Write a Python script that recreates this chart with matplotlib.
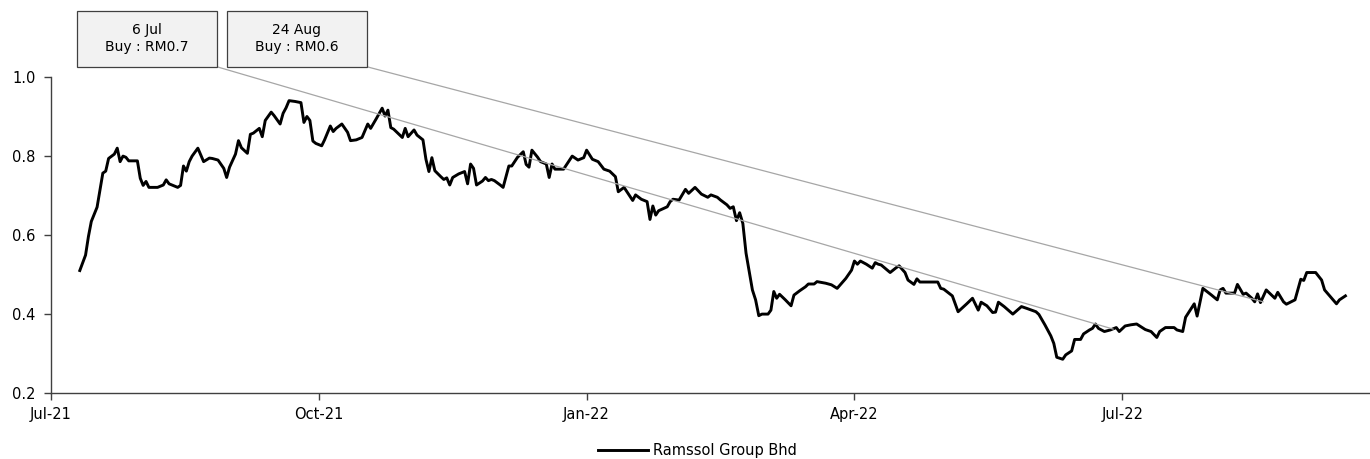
import matplotlib
matplotlib.use('Agg')
import matplotlib.pyplot as plt
import pandas as pd
import numpy as np
from matplotlib.patches import Rectangle, ConnectionPatch

series_name = 'Ramssol Group Bhd'

dates = [
    '2021-07-11', '2021-07-13', '2021-07-14', '2021-07-15', '2021-07-17', '2021-07-18', '2021-07-19', '2021-07-20',
    '2021-07-21', '2021-07-23', '2021-07-24', '2021-07-25', '2021-07-26', '2021-07-27', '2021-07-28', '2021-07-31',
    '2021-08-01', '2021-08-02', '2021-08-03', '2021-08-04', '2021-08-07', '2021-08-09', '2021-08-10', '2021-08-11',
    '2021-08-14', '2021-08-15', '2021-08-16', '2021-08-17', '2021-08-18', '2021-08-19', '2021-08-21', '2021-08-23',
    '2021-08-25', '2021-08-26', '2021-08-28', '2021-08-30', '2021-08-31', '2021-09-01', '2021-09-03', '2021-09-04',
    '2021-09-05', '2021-09-07', '2021-09-08', '2021-09-09', '2021-09-11', '2021-09-12', '2021-09-13', '2021-09-15',
    '2021-09-16', '2021-09-18', '2021-09-19', '2021-09-20', '2021-09-21', '2021-09-23', '2021-09-25', '2021-09-26',
    '2021-09-27', '2021-09-28', '2021-09-29', '2021-09-30', '2021-10-02', '2021-10-03', '2021-10-05', '2021-10-06',
    '2021-10-07', '2021-10-09', '2021-10-11', '2021-10-12', '2021-10-14', '2021-10-16', '2021-10-18', '2021-10-19',
    '2021-10-21', '2021-10-23', '2021-10-24', '2021-10-25', '2021-10-26', '2021-10-27', '2021-10-30', '2021-10-31',
    '2021-11-01', '2021-11-03', '2021-11-04', '2021-11-06', '2021-11-07', '2021-11-08', '2021-11-09', '2021-11-10',
    '2021-11-12', '2021-11-13', '2021-11-14', '2021-11-15', '2021-11-16', '2021-11-18', '2021-11-20', '2021-11-21',
    '2021-11-22', '2021-11-23', '2021-11-24', '2021-11-26', '2021-11-27', '2021-11-28', '2021-11-29', '2021-11-30',
    '2021-12-02', '2021-12-03', '2021-12-05', '2021-12-06', '2021-12-08', '2021-12-10', '2021-12-11', '2021-12-12',
    '2021-12-13', '2021-12-15', '2021-12-16', '2021-12-18', '2021-12-19', '2021-12-20', '2021-12-21', '2021-12-24',
    '2021-12-27', '2021-12-29', '2021-12-31', '2022-01-01', '2022-01-03', '2022-01-05', '2022-01-07', '2022-01-09',
    '2022-01-11', '2022-01-12', '2022-01-14', '2022-01-17', '2022-01-18', '2022-01-20', '2022-01-22', '2022-01-23',
    '2022-01-24', '2022-01-25', '2022-01-26', '2022-01-29', '2022-01-30', '2022-01-31', '2022-02-02', '2022-02-04',
    '2022-02-05', '2022-02-07', '2022-02-09', '2022-02-11', '2022-02-12', '2022-02-14', '2022-02-15', '2022-02-17',
    '2022-02-18', '2022-02-19', '2022-02-20', '2022-02-21', '2022-02-22', '2022-02-23', '2022-02-25', '2022-02-26',
    '2022-02-27', '2022-02-28', '2022-03-02', '2022-03-03', '2022-03-04', '2022-03-05', '2022-03-06', '2022-03-08',
    '2022-03-10', '2022-03-11', '2022-03-13', '2022-03-15', '2022-03-16', '2022-03-18', '2022-03-19', '2022-03-22',
    '2022-03-24', '2022-03-26', '2022-03-29', '2022-03-31', '2022-04-01', '2022-04-02', '2022-04-03', '2022-04-05',
    '2022-04-07', '2022-04-08', '2022-04-09', '2022-04-10', '2022-04-13', '2022-04-15', '2022-04-16', '2022-04-18',
    '2022-04-19', '2022-04-21', '2022-04-22', '2022-04-23', '2022-04-29', '2022-04-30', '2022-05-01', '2022-05-04',
    '2022-05-06', '2022-05-09', '2022-05-11', '2022-05-13', '2022-05-14', '2022-05-16', '2022-05-18', '2022-05-19',
    '2022-05-20', '2022-05-22', '2022-05-25', '2022-05-28', '2022-05-30', '2022-06-02', '2022-06-03', '2022-06-05',
    '2022-06-07', '2022-06-08', '2022-06-09', '2022-06-11', '2022-06-12', '2022-06-14', '2022-06-15', '2022-06-17',
    '2022-06-18', '2022-06-20', '2022-06-21', '2022-06-22', '2022-06-23', '2022-06-25', '2022-06-27', '2022-06-29',
    '2022-06-30', '2022-07-02', '2022-07-04', '2022-07-06', '2022-07-09', '2022-07-11', '2022-07-13', '2022-07-14',
    '2022-07-16', '2022-07-19', '2022-07-20', '2022-07-22', '2022-07-23', '2022-07-26', '2022-07-27', '2022-07-29',
    '2022-08-01', '2022-08-03', '2022-08-04', '2022-08-05', '2022-08-06', '2022-08-09', '2022-08-10', '2022-08-12',
    '2022-08-13', '2022-08-15', '2022-08-16', '2022-08-17', '2022-08-18', '2022-08-20', '2022-08-23', '2022-08-24',
    '2022-08-26', '2022-08-27', '2022-08-30', '2022-09-01', '2022-09-02', '2022-09-03', '2022-09-06', '2022-09-08',
    '2022-09-09', '2022-09-13', '2022-09-14', '2022-09-16',
]

prices = [
    0.510, 0.549, 0.596, 0.634, 0.670, 0.713, 0.756, 0.761,
    0.793, 0.804, 0.819, 0.785, 0.799, 0.796, 0.787, 0.787,
    0.743, 0.725, 0.735, 0.720, 0.720, 0.726, 0.739, 0.729,
    0.720, 0.725, 0.774, 0.761, 0.785, 0.799, 0.819, 0.785,
    0.794, 0.793, 0.789, 0.768, 0.745, 0.771, 0.804, 0.838,
    0.820, 0.806, 0.854, 0.857, 0.869, 0.848, 0.889, 0.910,
    0.901, 0.880, 0.907, 0.921, 0.939, 0.937, 0.934, 0.884,
    0.899, 0.889, 0.837, 0.831, 0.825, 0.840, 0.875, 0.861,
    0.869, 0.880, 0.859, 0.838, 0.840, 0.846, 0.880, 0.869,
    0.894, 0.920, 0.900, 0.915, 0.871, 0.867, 0.846, 0.869,
    0.848, 0.865, 0.852, 0.840, 0.791, 0.760, 0.795, 0.762,
    0.747, 0.740, 0.744, 0.726, 0.745, 0.754, 0.760, 0.729,
    0.779, 0.768, 0.726, 0.736, 0.745, 0.737, 0.740, 0.737,
    0.726, 0.720, 0.774, 0.774, 0.796, 0.810, 0.778, 0.771,
    0.814, 0.796, 0.785, 0.779, 0.745, 0.779, 0.766, 0.766,
    0.799, 0.789, 0.795, 0.814, 0.791, 0.785, 0.766, 0.761,
    0.747, 0.709, 0.720, 0.687, 0.701, 0.690, 0.684, 0.639,
    0.673, 0.650, 0.661, 0.671, 0.684, 0.690, 0.688, 0.715,
    0.705, 0.720, 0.703, 0.695, 0.701, 0.695, 0.688, 0.676,
    0.667, 0.671, 0.636, 0.656, 0.629, 0.554, 0.461, 0.436,
    0.396, 0.400, 0.400, 0.410, 0.457, 0.440, 0.450, 0.436,
    0.421, 0.448, 0.459, 0.469, 0.476, 0.476, 0.482, 0.478,
    0.474, 0.465, 0.490, 0.511, 0.534, 0.526, 0.534, 0.526,
    0.516, 0.530, 0.526, 0.524, 0.505, 0.517, 0.522, 0.505,
    0.486, 0.475, 0.489, 0.481, 0.481, 0.465, 0.463, 0.446,
    0.406, 0.426, 0.440, 0.410, 0.430, 0.421, 0.404, 0.405,
    0.430, 0.419, 0.400, 0.419, 0.414, 0.406, 0.399, 0.373,
    0.345, 0.326, 0.291, 0.286, 0.297, 0.307, 0.336, 0.336,
    0.350, 0.360, 0.364, 0.375, 0.364, 0.356, 0.360, 0.366,
    0.356, 0.370, 0.373, 0.375, 0.361, 0.356, 0.341, 0.356,
    0.366, 0.366, 0.360, 0.356, 0.392, 0.426, 0.395, 0.465,
    0.448, 0.436, 0.461, 0.465, 0.453, 0.453, 0.475, 0.450,
    0.453, 0.440, 0.431, 0.451, 0.429, 0.461, 0.440, 0.455,
    0.431, 0.425, 0.436, 0.488, 0.485, 0.505, 0.505, 0.486,
    0.461, 0.426, 0.436, 0.446,
]

tick_dates = ['2021-07-01', '2021-10-01', '2022-01-01', '2022-04-01', '2022-07-01']
tick_labels = ['Jul-21', 'Oct-21', 'Jan-22', 'Apr-22', 'Jul-22']
y_ticks = [0.2, 0.4, 0.6, 0.8, 1.0]
y_labels = ['0.2', '0.4', '0.6', '0.8', '1.0']

callout_texts = ['6 Jul\nBuy : RM0.7', '24 Aug\nBuy : RM0.6']
callout_target_dates = ['2022-06-28', '2022-08-19']
callout_target_prices = [0.362, 0.431]


def month_pos(values):
    d = pd.to_datetime(pd.Series(values))
    return ((d.dt.year - 2021) * 12 + d.dt.month - 7
            + (d.dt.day - 1) / d.dt.days_in_month).to_numpy(dtype=float)


plt.rcParams['font.family'] = ['DejaVu Sans']
W, H = 1370, 459
fig = plt.figure(figsize=(W / 100, H / 100), dpi=100)
ax_left, ax_bottom_px, ax_top_px = 51, 393.3, 76.5
ax = fig.add_axes([ax_left / W, 1 - ax_bottom_px / H, (W - ax_left) / W, (ax_bottom_px - ax_top_px) / H])

x = month_pos(dates)
ax.plot(x, prices, color='black', lw=2.1, label=series_name, solid_joinstyle='round', zorder=2)

px_per_month = 89.27
ax.set_xlim(0, (W - ax_left) / px_per_month)
ax.set_ylim(0.2, 1.0)
ax.set_xticks(month_pos(tick_dates))
ax.set_xticklabels(tick_labels)
ax.set_yticks(y_ticks)
ax.set_yticklabels(y_labels)

axis_col = '#404040'
for s in ['top', 'right']:
    ax.spines[s].set_visible(False)
for s in ['left', 'bottom']:
    ax.spines[s].set_color(axis_col)
    ax.spines[s].set_linewidth(1.0)
ax.tick_params(axis='both', length=5, width=1, color=axis_col, labelsize=10.5, labelcolor='black')
ax.tick_params(axis='x', pad=5)
ax.tick_params(axis='y', pad=6)

# callout boxes
box_w, box_h = 140, 55.7
box_lefts = [76.7, 226.7]
box_top = 11
for i, txt in enumerate(callout_texts):
    bl = box_lefts[i]
    rect = Rectangle((bl / W, 1 - (box_top + box_h) / H), box_w / W, box_h / H,
                     transform=fig.transFigure, facecolor='#f2f2f2', edgecolor=axis_col, lw=0.9, zorder=5)
    fig.add_artist(rect)
    fig.text((bl + box_w / 2) / W, 1 - (box_top + box_h / 2) / H, txt, ha='center', va='center',
             fontsize=10, linespacing=1.25, zorder=6)
    tx = month_pos([callout_target_dates[i]])[0]
    con = ConnectionPatch(xyA=((bl + box_w) / W, 1 - (box_top + box_h) / H), coordsA='figure fraction',
                          xyB=(tx, callout_target_prices[i]), coordsB=ax.transData,
                          color='#a6a6a6', lw=0.9, zorder=4)
    fig.add_artist(con)

leg = fig.legend(loc='center left', bbox_to_anchor=(598 / W, 1 - 451 / H), frameon=False,
                 fontsize=10.5, handlelength=3.4, handletextpad=0.4, borderpad=0, borderaxespad=0)

fig.savefig('out.png', dpi=100)
